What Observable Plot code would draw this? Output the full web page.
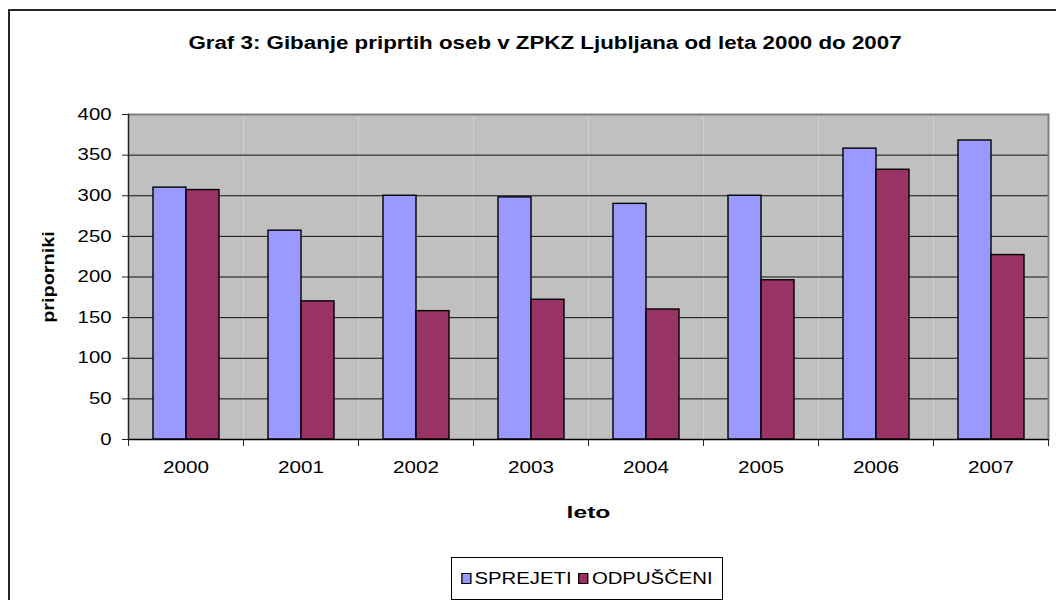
<!DOCTYPE html>
<html>
<head>
<meta charset="utf-8">
<script src="https://cdn.jsdelivr.net/npm/d3@7"></script>
<script src="https://cdn.jsdelivr.net/npm/@observablehq/plot@0.6"></script>
<style>
  html, body { margin: 0; padding: 0; background: #fff; }
  #chart { position: relative; width: 1056px; height: 600px; overflow: hidden; background: #fff;
           font-family: "Liberation Sans", Arial, sans-serif; color: #000; }
  #frameBorder { position: absolute; left: 8px; top: 9px; width: 1200px; height: 800px;
                 border-left: 2px solid #262626; border-top: 2px solid #262626; pointer-events: none; z-index: 3; }
  #title { position: absolute; top: 34px; left: 545px; white-space: nowrap; font-weight: bold;
           font-size: 18px; line-height: 18px; transform: translateX(-50%) scaleX(1.24); z-index: 2; }
  #plotHolder { position: absolute; left: 0; top: 0; z-index: 1; }
  #legend { position: absolute; left: 451px; top: 557px; width: 270px; height: 41px;
            border: 1px solid #000; background: #fff; z-index: 2; display: flex;
            align-items: center; justify-content: center; }
  #legendRow { display: flex; align-items: center; transform: scaleX(1.27); transform-origin: center;
               font-size: 16px; line-height: 16px; white-space: nowrap; }
  .sw { display: inline-block; width: 6px; height: 9px; border: 0.8px solid #000; margin-right: 2.4px; }
  .gap { display: inline-block; width: 5.6px; }
  [aria-label="y-axis label"] text, [aria-label="fx-axis label"] text { font-weight: bold; font-size: 17px; }
</style>
</head>
<body>
<div id="chart">
  <div id="frameBorder"></div>
  <div id="title"></div>
  <div id="plotHolder"></div>
  <div id="legend"><div id="legendRow"></div></div>
</div>
<script>
// ---- data ----
const titleText = "Graf 3: Gibanje priprtih oseb v ZPKZ Ljubljana od leta 2000 do 2007";
const years = ["2000", "2001", "2002", "2003", "2004", "2005", "2006", "2007"];
const sprejeti = [310, 257, 300, 298, 290, 300, 358, 368];
const odpusceni = [307, 170, 158, 172, 160, 196, 332, 227];
const seriesNames = ["SPREJETI", "ODPUŠČENI"];
const seriesColors = ["#9999FF", "#993366"];
const yTicks = [0, 50, 100, 150, 200, 250, 300, 350, 400];
const yLabel = "priporniki";
const xLabel = "leto";

// ---- table ----
const rows = years.flatMap((yr, i) => [
  {year: yr, series: seriesNames[0], value: sprejeti[i]},
  {year: yr, series: seriesNames[1], value: odpusceni[i]}
]);

document.getElementById("title").textContent = titleText;

const W = 1056, H = 545, MT = 114, MB = 106, ML = 127, MR = 7;
const innerH = H - MT - MB;

const chart = Plot.plot({
  width: W, height: H,
  marginTop: MT, marginBottom: MB, marginLeft: ML, marginRight: MR,
  style: {background: "transparent", fontFamily: "'Liberation Sans', Arial, sans-serif", fontSize: "16px", color: "#000", maxWidth: "none"},
  fx: {domain: years, padding: 0},
  x: {domain: seriesNames, paddingInner: 0, paddingOuter: 0.72, axis: null},
  y: {domain: [0, 400], labelArrow: "none"},
  color: {domain: seriesNames, range: seriesColors},
  marks: [
    Plot.frame({fill: "#C0C0C0"}),
    Plot.gridY(yTicks.slice(1, -1), {stroke: "#111", strokeOpacity: 1}),
    Plot.ruleY([400], {stroke: "#808080", strokeWidth: 2}),
    Plot.frame({anchor: "right", stroke: "#808080", strokeWidth: 2, fx: () => years[years.length - 1]}),
    Plot.barY(rows, {fx: "year", x: "series", y: "value", fill: "series", stroke: "#000", strokeWidth: 1.4}),
    Plot.ruleY([0], {stroke: "#000", strokeWidth: 1.5}),
    Plot.frame({anchor: "left", stroke: "#222", strokeWidth: 1.5, fx: () => years[0]}),
    Plot.frame({anchor: "left", stroke: "#222", insetTop: innerH, insetBottom: -6}),
    Plot.frame({anchor: "right", stroke: "#222", insetTop: innerH, insetBottom: -6}),
    Plot.axisY({ticks: yTicks, tickSize: 6, tickPadding: 11, stroke: "#222",
                label: yLabel, labelArrow: "none", labelAnchor: "center", labelOffset: 87}),
    Plot.axisFx({anchor: "bottom", tickSize: 0, tickPadding: 22,
                 label: xLabel, labelAnchor: "center", labelOffset: 78})
  ]
});
document.getElementById("plotHolder").appendChild(chart);

// emulate the horizontally stretched lettering of the original picture
function stretch(sel, k) {
  chart.querySelectorAll(sel).forEach(t => {
    const L = t.getComputedTextLength();
    t.setAttribute("textLength", L * k);
    t.setAttribute("lengthAdjust", "spacingAndGlyphs");
  });
}
stretch('[aria-label="y-axis tick label"] text', 1.27);
stretch('[aria-label="fx-axis tick label"] text', 1.29);
stretch('[aria-label="fx-axis label"] text', 1.45);
stretch('[aria-label="y-axis label"] text', 1.17);

// legend
const row = d3.select("#legendRow");
seriesNames.forEach((name, i) => {
  if (i > 0) row.append("span").attr("class", "gap");
  row.append("span").attr("class", "sw").style("background", seriesColors[i]);
  row.append("span").text(name);
});
</script>
</body>
</html>
